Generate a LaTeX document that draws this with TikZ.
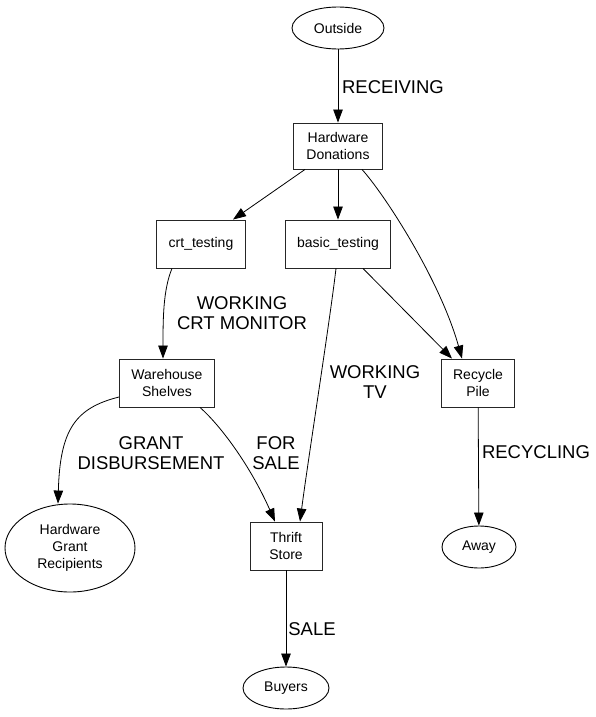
\documentclass[tikz,border=0pt]{standalone}
\usepackage{fontspec}
\setmainfont{Liberation Sans}
\usepackage{tikz}
\usetikzlibrary{arrows.meta,positioning,shapes.geometric}
\tikzset{
  >={Triangle[length=13pt,width=9.5pt]},
  flow/.style={->,line width=.8pt,draw=black},
  box/.style={draw=black!85,line width=.9pt,align=center,minimum height=48,
              minimum width=72,inner xsep=12,font=\fontsize{14}{17}\selectfont},
  blob/.style={draw=black,line width=.9pt,ellipse,align=center,inner sep=0pt,
               minimum height=42,font=\fontsize{14}{17}\selectfont},
  lab/.style={align=center,inner sep=0pt,font=\fontsize{18.5}{20.5}\selectfont}
}
\begin{document}
\begin{tikzpicture}[x=1pt,y=-1pt]
  \useasboundingbox (0,0) rectangle (596,717);
  \node[blob,minimum width=92] (out) at (338,28) {Outside};
  \node[box,minimum width=89,minimum height=46] (hd) at (338,146) {Hardware\\Donations};
  \node[box] (crt) at (201,244) {crt\_testing};
  \node[box] (basic) at (338,244) {basic\_testing};
  \node[box] (shelves) at (167,383) {Warehouse\\Shelves};
  \node[box] (recyc) at (478,383) {Recycle\\Pile};
  \node[blob,minimum width=130,minimum height=88] (grant) at (70,548) {Hardware\\Grant\\Recipients};
  \node[box] (thrift) at (286,546) {Thrift\\Store};
  \node[blob,minimum width=74] (away) at (479,547) {Away};
  \node[blob,minimum width=86] (buyers) at (286,688) {Buyers};
  % straight connectors
  \foreach \a/\b in {out/hd,hd/basic,recyc/away,thrift/buyers}{
    \draw[flow] (\a) -- (\b);
  }
  \draw[flow] ([xshift=-33]hd.south) -- ([xshift=32]crt.north);
  \draw[flow] ([xshift=24]hd.south) .. controls (385,195) and (440,280) .. ([xshift=-16]recyc.north);
  \draw[flow] ([xshift=-29]crt.south) .. controls (163,290) and (163,320) .. ([xshift=-4]shelves.north);
  \draw[flow] ([xshift=-2]basic.south) .. controls (330,320) and (308,460) .. ([xshift=14]thrift.north);
  \draw[flow] ([xshift=25]basic.south) -- ([xshift=-26]recyc.north);
  \draw[flow] ([yshift=-14]shelves.west) .. controls (75,408) and (60,430) .. ([xshift=-12]grant.north);
  \draw[flow] ([xshift=33]shelves.south) .. controls (220,425) and (250,465) .. ([xshift=-11]thrift.north);
  % edge labels
  \node[lab] (lrecv) at (393,87) {RECEIVING};
  \node[lab] (lcrt) at (242,313) {WORKING\\CRT MONITOR};
  \node[lab] (ltv) at (375,382) {WORKING\\TV};
  \node[lab] (lgrant) at (151,453) {GRANT\\DISBURSEMENT};
  \node[lab] (lsale) at (276,453) {FOR\\SALE};
  \node[lab] (lrecy) at (536,452) {RECYCLING};
  \node[lab] (lbuy) at (312,629) {SALE};
\end{tikzpicture}
\end{document}
